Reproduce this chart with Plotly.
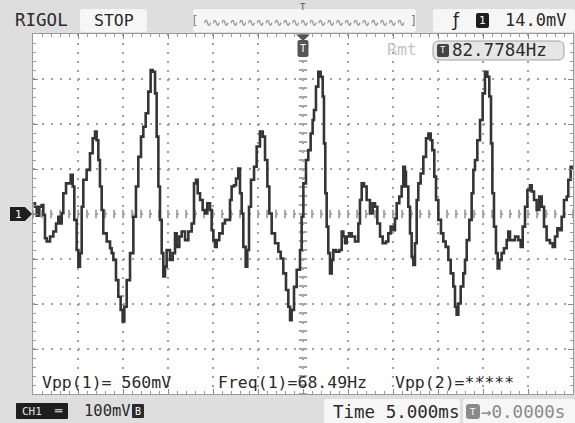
import plotly.graph_objects as go
import numpy as np

# ---- waveform data (time in ms, voltage in mV) ----
time_ms = [-29.96, -29.78, -29.59, -29.30, -29.04, -28.85, -28.67, -28.48, -28.11, -27.74,
           -27.44, -27.19, -27.00, -26.81, -26.63, -26.33, -26.07, -25.81, -25.59, -25.41,
           -25.15, -24.96, -24.78, -24.59, -24.41, -24.04, -23.67, -23.37, -23.11, -22.93,
           -22.74, -22.56, -22.37, -22.19, -21.81, -21.44, -21.26, -21.07, -20.78, -20.52,
           -20.26, -20.04, -19.85, -19.59, -19.22, -18.85, -18.56, -18.30, -18.00, -17.74,
           -17.48, -17.19, -16.93, -16.70, -16.44, -16.26, -16.07, -15.89, -15.70, -15.52,
           -15.33, -15.15, -14.78, -14.48, -14.22, -14.04, -13.74, -13.48, -13.11, -12.74,
           -12.37, -12.11, -11.89, -11.70, -11.44, -11.15, -10.89, -10.63, -10.33, -10.15,
           -9.96, -9.78, -9.59, -9.30, -8.93, -8.67, -8.41, -8.11, -7.93, -7.67,
           -7.44, -7.19, -7.00, -6.81, -6.63, -6.37, -6.19, -6.00, -5.78, -5.44,
           -5.15, -4.78, -4.48, -4.22, -3.96, -3.74, -3.48, -3.11, -2.74, -2.48,
           -2.19, -1.89, -1.63, -1.44, -1.26, -1.00, -0.70, -0.33, -0.15, 0.04,
           0.33, 0.59, 0.85, 1.07, 1.22, 1.44, 1.70, 1.96, 2.19, 2.33,
           2.48, 2.63, 2.81, 3.00, 3.19, 3.37, 3.67, 4.04, 4.30, 4.48,
           4.67, 4.85, 5.15, 5.41, 5.78, 6.15, 6.33, 6.52, 6.78, 7.07,
           7.44, 7.74, 8.00, 8.26, 8.56, 8.85, 9.22, 9.48, 9.74, 10.04,
           10.22, 10.41, 10.70, 10.96, 11.15, 11.33, 11.44, 11.70, 11.89, 12.07,
           12.26, 12.44, 12.63, 12.81, 13.07, 13.37, 13.67, 13.93, 14.19, 14.37,
           14.59, 14.78, 15.04, 15.33, 15.59, 15.85, 16.15, 16.41, 16.70, 16.89,
           17.07, 17.26, 17.52, 17.81, 18.00, 18.19, 18.48, 18.74, 18.93, 19.11,
           19.37, 19.67, 19.96, 20.22, 20.48, 20.70, 20.89, 21.04, 21.22, 21.44,
           21.63, 21.81, 22.07, 22.33, 22.63, 22.81, 23.00, 23.30, 23.56, 23.93,
           24.19, 24.41, 24.67, 24.93, 25.22, 25.41, 25.67, 25.96, 26.26, 26.52,
           26.78, 27.07, 27.44, 27.74, 28.00, 28.26, 28.56, 28.74, 29.00, 29.30,
           29.48, 29.74, 29.96]
volt_mv = [24, 16, -4, 16, 20, -2, -54, -61, -50, -39,
           -21, -6, -21, 2, 46, 68, 68, 87, 61, -13,
           -80, -117, -87, 16, 76, 98, 135, 168, 183, 164,
           120, 61, 9, -43, -61, -76, -87, -102, -147, -184,
           -213, -239, -206, -147, -87, -6, 61, 127, 172, 194,
           224, 272, 320, 316, 268, 172, 61, -13, -87, -139,
           -117, -80, -102, -87, -43, -73, -50, -39, -58, -39,
           -21, 68, 76, 46, 31, 9, 1, 24, 9, -36,
           -58, -73, -58, -43, -21, -13, -13, 31, 61, 64,
           79, 101, 46, 1, -73, -117, -80, 16, 76, 105,
           150, 183, 172, 120, 61, 1, -43, -65, -84, -99,
           -132, -169, -206, -236, -213, -162, -124, -80, -6, 68,
           120, 142, 179, 209, 231, 283, 316, 305, 261, 157,
           46, -28, -87, -132, -102, -80, -84, -80, -39, -50,
           -65, -50, -43, -50, -61, -21, 31, 68, 61, 31,
           1, 24, 16, -21, -50, -65, -61, -43, -28, -36,
           -10, 24, 39, 61, 105, 94, 61, 16, -43, -95,
           -113, -65, 31, 68, 90, 127, 168, 179, 164, 142,
           83, 31, -13, -43, -61, -73, -102, -132, -161, -206,
           -224, -199, -161, -132, -102, -58, -13, 46, 98, 120,
           164, 209, 268, 316, 305, 261, 157, 46, -28, -87,
           -121, -102, -87, -76, -58, -39, -58, -58, -50, -58,
           -73, -28, 16, 53, 64, 50, 31, 9, 39, 16,
           -28, -58, -65, -73, -50, -32, -36, -6, 31, 39,
           76, 105, 98]

# ---- screen / scale settings ----
time_range = [-30, 30]      # 12 div x 5.000 ms
volt_range = [-400, 400]    # 8 div x 100 mV
time_div = 5
volt_div = 100

# on-screen readouts
brand = "RIGOL"
run_state = "STOP"
trig_level = "14.0mV"
rmt_label = "Rmt"
trig_freq = "82.7784Hz"
meas_texts = ["Vpp(1)= 560mV", "Freq(1)=68.49Hz", "Vpp(2)=*****"]
ch_scale = "100mV"
time_base = "Time 5.000ms"
trig_pos = "→0.0000s"

W, H = 575, 423
L, R, T, B = 33, 573, 34, 394
MONO = "DejaVu Sans Mono"


def px(x):
    return (x - L) / (R - L)


def py(y):
    return (B - y) / (B - T)


def rrect(x0, y0, x1, y1, r):
    pts = [("M", x0 + r, y0), ("L", x1 - r, y0), ("Q", x1, y0, x1, y0 + r),
           ("L", x1, y1 - r), ("Q", x1, y1, x1 - r, y1), ("L", x0 + r, y1),
           ("Q", x0, y1, x0, y1 - r), ("L", x0, y0 + r), ("Q", x0, y0, x0 + r, y0)]
    s = ""
    for p in pts:
        cmd = p[0]
        coords = p[1:]
        parts = []
        for i in range(0, len(coords), 2):
            parts.append(f"{px(coords[i]):.5f},{py(coords[i+1]):.5f}")
        s += cmd + " ".join(parts) + " "
    return s + "Z"


def poly(points):
    s = "M" + " L".join(f"{px(x):.5f},{py(y):.5f}" for x, y in points)
    return s + " Z"


shapes = []
annots = []


def box(x0, y0, x1, y1, fill, line=None, r=3, lw=1):
    shapes.append(dict(type="path", xref="paper", yref="paper",
                       path=rrect(x0, y0, x1, y1, r), fillcolor=fill,
                       line=dict(color=line or fill, width=lw if line else 0)))


def text(x, y, s, size, color="#2a2a2a", xa="left", bg=None, family=MONO):
    annots.append(dict(x=px(x), y=py(y), xref="paper", yref="paper", text=s,
                       showarrow=False, xanchor=xa, yanchor="middle",
                       font=dict(family=family, size=size, color=color),
                       bgcolor=bg, borderpad=0))


fig = go.Figure()

# center-line graduation marks
cx = np.arange(time_range[0], time_range[1] + 1, 1)
cy = np.arange(volt_range[0], volt_range[1] + 1, 20)
fig.add_trace(go.Scatter(x=cx, y=np.zeros_like(cx), mode="markers", hoverinfo="skip",
                         marker=dict(symbol="line-ns", size=6,
                                     line=dict(width=2, color="#a8a8a8"))))
fig.add_trace(go.Scatter(x=np.zeros_like(cy), y=cy, mode="markers", hoverinfo="skip",
                         marker=dict(symbol="line-ew", size=6,
                                     line=dict(width=2, color="#a8a8a8"))))

# waveform
fig.add_trace(go.Scatter(x=time_ms, y=volt_mv, mode="lines",
                         line=dict(color="#353535", width=2.6, shape="hv")))

# ---- top bar ----
text(14, 20, brand, 17.5)
box(80, 9, 147, 32, "#f6f6f6")
text(113.5, 20.5, run_state, 16.5, xa="center")
box(193, 9, 416, 32, "#f6f6f6")
text(304, 22, "∿" * 23, 10.5, color="#6e6e6e", xa="center", family="DejaVu Sans")
text(199, 21, "[", 12, color="#7a7a7a", xa="right")
text(409, 21, "]", 12, color="#7a7a7a", xa="left")
text(303, 7, "T", 9, color="#555", xa="center")
box(433, 9, 575, 32, "#f6f6f6")
text(455, 20.5, "ƒ", 17, color="#222", xa="center", family="DejaVu Sans")
box(476, 13, 489, 28, "#1e1e1e", r=2)
text(482.5, 20.5, "1", 11, color="#ffffff", xa="center")
text(567, 20.5, trig_level, 17, xa="right")

# ---- inside screen readouts ----
text(386, 50, rmt_label, 16.5, color="#c4c4c4")
box(433, 41, 564, 60, "#e6e6e6", line="#a0a0a0", r=6)
box(437, 44, 449, 57, "#444444", r=2)
text(443, 50.5, "T", 9, color="#ffffff", xa="center")
text(451, 50.5, trig_freq, 17.5)
text(41, 382.5, meas_texts[0], 16.5)
text(217, 382.5, meas_texts[1], 16.5)
text(394, 382.5, meas_texts[2], 16.5)

# trigger position marker (top) and channel-1 ground marker (left)
shapes.append(dict(type="path", xref="paper", yref="paper",
                   path=poly([(296, 34.5), (310, 34.5), (303, 41)]),
                   fillcolor="#555555", line=dict(width=0)))
box(297.5, 40, 308.5, 57, "#555555", r=2)
text(303, 48.5, "T", 10, color="#ffffff", xa="center")
shapes.append(dict(type="path", xref="paper", yref="paper",
                   path=poly([(10, 207), (25, 207), (32, 214), (25, 221), (10, 221)]),
                   fillcolor="#1e1e1e", line=dict(width=0)))
text(18, 214, "1", 11, color="#ffffff", xa="center")

# ---- bottom bar ----
box(16, 403, 68, 419, "#1e1e1e", r=1)
text(32, 411, "CH1", 11, color="#e0e0e0", xa="center")
text(58.5, 411, "═", 12, color="#e0e0e0", xa="center")
text(83, 411, ch_scale, 15.5)
box(132, 404, 144, 418, "#2a2a2a", r=1)
text(138, 411, "B", 10, color="#ffffff", xa="center")
box(324, 399, 460, 424, "#f6f6f6", r=3)
text(332, 411.5, time_base, 17.5)
box(463, 399, 576, 424, "#f6f6f6", r=3)
box(466, 404, 480, 419, "#8a8a8a", r=3)
text(473, 411.5, "T", 9, color="#ffffff", xa="center")
text(480, 411.5, trig_pos, 17.5, color="#8a8a8a")

axis_common = dict(showgrid=True, gridcolor="#a0a0a0", gridwidth=2, griddash="2px,7px",
                   zeroline=False, showticklabels=False, ticks="inside", ticklen=5,
                   tickcolor="#8a8a8a", tickwidth=1, showline=True, linecolor="#9a9a9a",
                   linewidth=1, mirror="ticks", fixedrange=True)

fig.update_layout(
    width=W, height=H,
    margin=dict(l=L, r=W - R, t=T, b=H - B, pad=0),
    paper_bgcolor="#dedede", plot_bgcolor="#ffffff",
    showlegend=False,
    xaxis=dict(range=time_range, dtick=time_div, tick0=0,
               minor=dict(dtick=1, ticks="inside", ticklen=3, tickcolor="#9a9a9a",
                          showgrid=False), **axis_common),
    yaxis=dict(range=volt_range, dtick=volt_div, tick0=0,
               minor=dict(dtick=20, ticks="inside", ticklen=3, tickcolor="#9a9a9a",
                          showgrid=False), **axis_common),
    shapes=shapes, annotations=annots,
)

fig.write_html("out.html", config={"displayModeBar": False},
               post_script="document.body.style.margin='0';")
